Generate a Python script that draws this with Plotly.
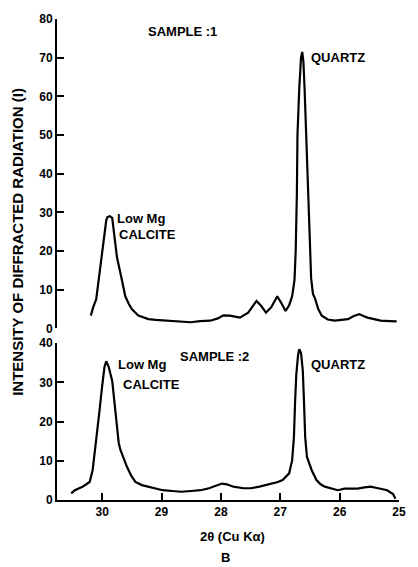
import plotly.graph_objects as go

# Sample 1 (upper panel): 2-theta and intensity
s1_theta = [30.19, 30.15, 30.10, 30.06, 30.02, 29.97, 29.93, 29.91, 29.87, 29.83, 29.80, 29.75,
            29.69, 29.65, 29.61, 29.55, 29.50, 29.39, 29.22, 29.10, 28.95, 28.75, 28.51, 28.35,
            28.18, 28.05, 27.96, 27.85, 27.68, 27.54, 27.47, 27.40, 27.32, 27.24, 27.15, 27.05,
            26.98, 26.91, 26.85, 26.80, 26.76, 26.74, 26.72, 26.71, 26.68, 26.65, 26.63, 26.61,
            26.59, 26.56, 26.53, 26.50, 26.48, 26.45, 26.41, 26.36, 26.30, 26.20, 26.08, 25.97,
            25.86, 25.76, 25.67, 25.60, 25.53, 25.42, 25.31, 25.15, 25.04]
s1_int = [3.3, 5.5, 7.5, 12.0, 16.7, 23.4, 28.0, 28.8, 29.0, 28.6, 24.3, 18.4,
          14.2, 11.0, 8.3, 6.3, 5.0, 3.3, 2.4, 2.2, 2.0, 1.8, 1.6, 1.9,
          2.0, 2.6, 3.4, 3.3, 2.8, 4.1, 5.5, 7.1, 5.8, 4.1, 5.5, 8.3,
          6.5, 4.5, 6.0, 8.3, 12.5, 20.0, 35.0, 50.0, 62.0, 70.0, 71.5, 69.0,
          62.0, 50.0, 35.0, 22.0, 13.0, 9.0, 7.5, 5.0, 3.3, 2.3, 2.0, 2.2,
          2.4, 3.2, 3.7, 3.2, 2.8, 2.4, 2.0, 1.9, 1.8]

# Sample 2 (lower panel)
s2_theta = [30.52, 30.46, 30.33, 30.21, 30.16, 30.13, 30.10, 30.05, 30.00, 29.96, 29.93, 29.89,
            29.83, 29.77, 29.72, 29.69, 29.64, 29.58, 29.51, 29.44, 29.33, 29.22, 29.10, 28.98,
            28.82, 28.67, 28.50, 28.34, 28.20, 28.12, 27.98, 27.90, 27.79, 27.62, 27.50, 27.35,
            27.23, 27.13, 27.04, 26.96, 26.90, 26.85, 26.80, 26.77, 26.75, 26.73, 26.70, 26.68,
            26.65, 26.62, 26.60, 26.58, 26.55, 26.51, 26.47, 26.39, 26.32, 26.25, 26.15, 26.03,
            25.92, 25.80, 25.70, 25.58, 25.48, 25.35, 25.20, 25.10, 25.06]
s2_int = [1.7, 2.5, 3.4, 4.6, 7.6, 12.0, 16.0, 22.0, 29.0, 34.0, 35.4, 34.0,
          30.4, 22.0, 14.5, 12.7, 10.5, 8.4, 6.2, 4.6, 3.8, 3.4, 2.9, 2.5,
          2.3, 2.1, 2.3, 2.5, 3.0, 3.4, 4.2, 4.0, 3.4, 3.0, 3.0, 3.4,
          3.8, 4.2, 4.6, 5.1, 6.0, 6.8, 10.1, 16.0, 25.0, 32.0, 37.0, 38.5,
          37.5, 33.0, 25.0, 16.0, 11.0, 9.0, 7.6, 5.1, 4.0, 3.4, 2.9, 2.5,
          2.9, 3.0, 2.9, 3.2, 3.4, 3.0, 2.5, 1.5, 0.3]

x_ticks = [30, 29, 28, 27, 26, 25]
y1_ticks = [0, 10, 20, 30, 40, 50, 60, 70, 80]
y2_ticks = [0, 10, 20, 30, 40]

FONT = "Liberation Sans, Arial, sans-serif"

fig = go.Figure()
fig.add_trace(go.Scatter(x=s1_theta, y=s1_int, xaxis="x", yaxis="y2", mode="lines",
                         line=dict(color="black", width=2.2), showlegend=False))
fig.add_trace(go.Scatter(x=s2_theta, y=s2_int, xaxis="x", yaxis="y", mode="lines",
                         line=dict(color="black", width=2.2), showlegend=False))

axis_common = dict(showgrid=False, zeroline=False, showline=True, linecolor="black", linewidth=2,
                   ticks="inside", ticklen=7, tickwidth=2, tickcolor="black",
                   tickfont=dict(family=FONT, size=12, color="black", weight="bold"))

fig.update_layout(
    width=418, height=567,
    margin=dict(l=57, r=13, t=15, b=67),
    paper_bgcolor="white", plot_bgcolor="white",
    xaxis=dict(range=[30.76, 25.0], tickvals=x_ticks, ticktext=[str(v) for v in x_ticks],
               anchor="y", **axis_common),
    yaxis=dict(domain=[0, 0.3258], range=[0, 40], tickvals=y2_ticks, anchor="x", **axis_common),
    yaxis2=dict(domain=[0.3567, 1], range=[0, 80], tickvals=y1_ticks, anchor="x", **axis_common),
)

ann_font = dict(family=FONT, size=13, color="black", weight="bold")
labels = [
    ("SAMPLE :1", 29.255, 76.8, "y2"),
    ("QUARTZ", 26.52, 70.0, "y2"),
    ("Low Mg", 29.785, 28.5, "y2"),
    ("CALCITE", 29.75, 24.2, "y2"),
    ("SAMPLE :2", 28.73, 36.7, "y"),
    ("Low Mg", 29.77, 34.7, "y"),
    ("CALCITE", 29.69, 29.6, "y"),
    ("QUARTZ", 26.52, 34.7, "y"),
]
for text, xv, yv, yr in labels:
    fig.add_annotation(x=xv, y=yv, xref="x", yref=yr, text=text, showarrow=False,
                       xanchor="left", yanchor="middle", font=ann_font)

fig.add_annotation(x=0.514, y=-0.076, xref="paper", yref="paper", text="2θ (Cu Kα)",
                   showarrow=False, xanchor="center", yanchor="middle", font=ann_font)
fig.add_annotation(x=0.494, y=-0.12, xref="paper", yref="paper", text="B",
                   showarrow=False, xanchor="center", yanchor="middle", font=ann_font)
fig.add_annotation(x=-0.115, y=0.536, xref="paper", yref="paper",
                   text="INTENSITY OF DIFFRACTED RADIATION (I)", textangle=-90,
                   showarrow=False, xanchor="center", yanchor="middle",
                   font=dict(family=FONT, size=15, color="black", weight="bold"))

fig.write_html("out.html", config={"displayModeBar": False},
               post_script="document.body.style.margin='0';document.body.style.overflow='hidden';")
